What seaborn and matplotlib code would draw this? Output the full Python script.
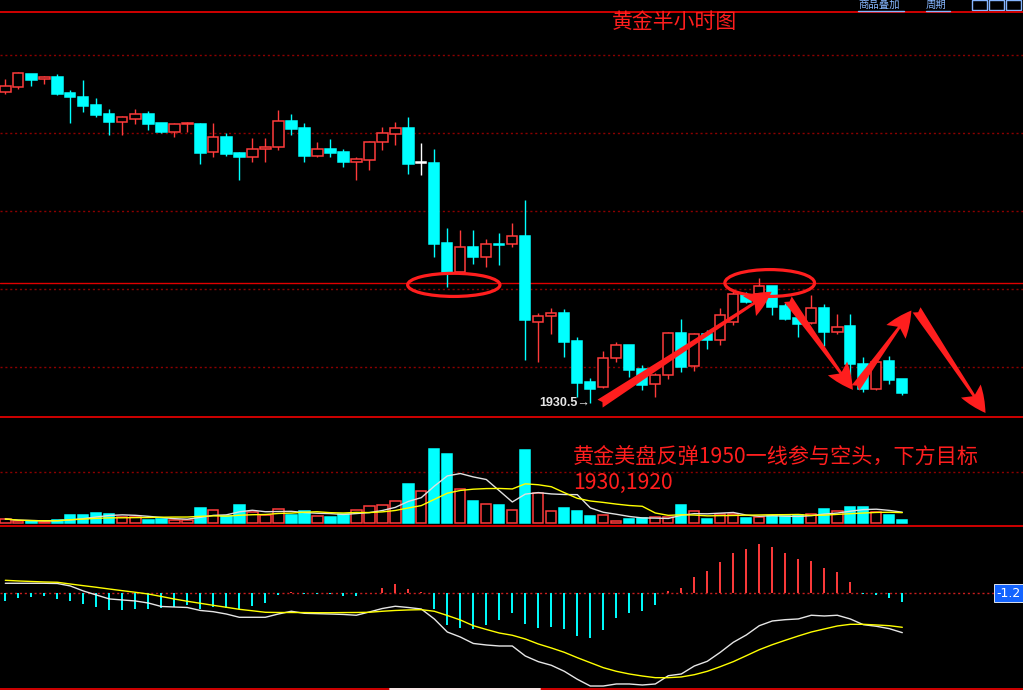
import numpy as np
import pandas as pd
import seaborn as sns
import matplotlib.pyplot as plt
from matplotlib.patches import Ellipse, FancyArrowPatch, Rectangle
from matplotlib.lines import Line2D

# ---------------- data (gold, 30 min bars) ----------------
opens = [1980.2, 1981.1, 1983.1, 1982.4, 1982.7, 1980.1, 1979.5, 1978.2, 1976.7, 1975.5,
         1976.0, 1976.7, 1975.3, 1973.9, 1975.1, 1975.1, 1970.7, 1973.1, 1970.5, 1969.9,
         1971.1, 1971.4, 1975.6, 1974.5, 1970.1, 1971.1, 1970.7, 1969.0, 1969.4, 1972.2,
         1973.6, 1974.5, 1968.9, 1968.9, 1956.1, 1951.5, 1955.5, 1953.9, 1955.9, 1955.9,
         1957.2, 1943.4, 1944.4, 1944.9, 1940.4, 1933.9, 1933.0, 1937.7, 1939.7, 1935.9,
         1933.5, 1934.9, 1941.7, 1936.4, 1941.5, 1940.6, 1943.5, 1947.8, 1947.9, 1949.2,
         1946.0, 1944.1, 1943.3, 1945.7, 1941.8, 1942.8, 1936.7, 1932.7, 1937.2, 1934.3]
highs = [1982.3, 1983.4, 1983.1, 1982.8, 1983.1, 1980.6, 1982.2, 1979.3, 1977.5, 1976.4,
         1977.5, 1977.2, 1975.3, 1975.3, 1975.4, 1975.3, 1975.3, 1973.7, 1970.7, 1972.9,
         1972.9, 1977.4, 1976.7, 1975.3, 1972.3, 1972.7, 1971.1, 1969.9, 1972.4, 1974.7,
         1975.5, 1976.3, 1972.1, 1971.1, 1958.5, 1958.2, 1958.2, 1956.7, 1957.7, 1959.3,
         1963.0, 1944.9, 1945.7, 1945.5, 1941.1, 1934.5, 1938.8, 1940.3, 1939.8, 1936.5,
         1935.3, 1941.9, 1943.9, 1941.7, 1942.2, 1945.7, 1948.6, 1948.3, 1950.5, 1949.2,
         1946.5, 1945.1, 1947.7, 1946.4, 1944.8, 1944.8, 1937.8, 1937.0, 1938.1, 1934.4]
lows = [1980.0, 1980.8, 1981.2, 1981.5, 1979.7, 1975.3, 1977.1, 1976.2, 1973.4, 1973.4,
        1975.2, 1974.2, 1973.7, 1973.1, 1973.9, 1968.8, 1969.8, 1970.1, 1966.2, 1969.1,
        1969.1, 1971.0, 1973.4, 1969.0, 1969.8, 1969.8, 1968.2, 1966.2, 1967.7, 1970.9,
        1971.7, 1967.2, 1966.9, 1953.8, 1949.1, 1951.3, 1952.8, 1952.3, 1952.5, 1955.5,
        1937.4, 1937.1, 1941.6, 1937.9, 1931.5, 1930.5, 1932.9, 1937.1, 1934.7, 1932.5,
        1931.5, 1934.3, 1935.5, 1935.6, 1939.1, 1939.8, 1943.0, 1946.5, 1947.8, 1944.6,
        1943.7, 1941.1, 1943.2, 1939.6, 1941.5, 1934.7, 1932.2, 1932.6, 1933.6, 1931.8]
closes = [1981.2, 1983.3, 1982.2, 1982.7, 1979.9, 1979.4, 1978.0, 1976.6, 1975.5, 1976.3,
          1976.7, 1975.2, 1973.9, 1975.1, 1975.3, 1970.5, 1973.1, 1970.4, 1969.9, 1971.1,
          1971.5, 1975.6, 1974.4, 1970.1, 1971.1, 1970.5, 1969.0, 1969.5, 1972.3, 1973.7,
          1974.5, 1968.8, 1968.9, 1956.0, 1951.5, 1955.4, 1953.9, 1955.9, 1955.8, 1957.2,
          1943.7, 1944.4, 1944.9, 1940.3, 1933.7, 1932.8, 1937.7, 1939.7, 1935.8, 1933.4,
          1934.9, 1941.7, 1936.3, 1941.5, 1940.6, 1944.5, 1947.9, 1946.7, 1949.2, 1945.9,
          1944.0, 1943.2, 1945.7, 1941.8, 1942.7, 1936.8, 1932.7, 1937.0, 1934.2, 1932.1]
volumes = [370, 140, 140, 100, 240, 770, 770, 970, 870, 540,
           540, 270, 400, 270, 270, 1470, 1240, 670, 1770, 1070,
           740, 1340, 770, 1170, 700, 570, 900, 1240, 1640, 1740,
           2140, 3870, 3140, 7370, 6870, 3340, 2170, 1840, 1770, 1240,
           7270, 2940, 1170, 1470, 1170, 670, 740, 170, 370, 440,
           570, 570, 1770, 1170, 370, 900, 900, 470, 570, 670,
           640, 770, 870, 1370, 1170, 1570, 1570, 1070, 770, 270]
macd_dif = [1.38, 1.38, 1.38, 1.38, 1.35, 1.01, 0.32, -0.23, -0.78, -0.92,
            -1.06, -1.34, -1.82, -1.89, -1.96, -2.37, -2.54, -2.86, -3.31, -3.31,
            -3.31, -2.86, -2.48, -2.76, -2.81, -2.86, -2.92, -3.03, -2.58, -2.10,
            -1.79, -1.96, -2.17, -3.54, -5.34, -6.03, -6.92, -7.13, -7.27, -7.27,
            -8.65, -9.43, -9.93, -10.76, -11.86, -12.79, -12.79, -12.51, -12.51, -12.65,
            -12.51, -11.37, -11.13, -10.03, -9.38, -8.14, -6.76, -5.75, -4.47, -3.82,
            -3.64, -3.54, -3.03, -3.13, -3.03, -3.54, -4.33, -4.55, -4.88, -5.43]
macd_dea = [1.79, 1.70, 1.63, 1.56, 1.52, 1.28, 1.05, 0.83, 0.59, 0.36,
            0.14, -0.10, -0.44, -0.79, -1.10, -1.38, -1.66, -1.93, -2.21, -2.41,
            -2.62, -2.65, -2.65, -2.66, -2.68, -2.68, -2.66, -2.65, -2.62, -2.48,
            -2.37, -2.30, -2.26, -2.48, -3.06, -3.68, -4.47, -4.99, -5.48, -5.79,
            -6.30, -6.99, -7.54, -8.14, -8.88, -9.57, -10.26, -10.76, -11.13, -11.41,
            -11.64, -11.64, -11.54, -11.23, -10.76, -10.12, -9.43, -8.61, -7.78, -7.09,
            -6.48, -5.89, -5.34, -4.92, -4.51, -4.28, -4.28, -4.37, -4.47, -4.69]
macd_hist = [-1.02, -0.61, -0.47, -0.33, -0.74, -1.02, -1.43, -1.85, -2.26, -2.26,
             -2.12, -2.12, -1.99, -1.93, -1.57, -2.12, -1.85, -1.99, -2.12, -1.71,
             -1.30, -0.19, 0.22, -0.14, -0.10, -0.10, -0.33, -0.33, 0.08, 0.73,
             1.28, 0.59, 0.22, -2.12, -4.33, -4.74, -4.88, -4.33, -3.64, -2.68,
             -4.19, -4.74, -4.61, -4.88, -5.85, -6.12, -5.02, -3.37, -2.68, -2.40,
             -1.57, 0.32, 0.73, 2.25, 3.08, 4.32, 5.56, 6.11, 6.80, 6.39,
             5.56, 4.73, 4.46, 3.50, 2.94, 1.56, -0.10, -0.23, -0.65, -1.20]

price_grid = [1986.2, 1973.7, 1961.2, 1948.7, 1936.2]
resistance = 1949.7
vol_grid = 5040

title = "黄金半小时图"
note_lines = ["黄金美盘反弹1950一线参与空头，下方目标", "1930,1920"]

# hand drawn marks on the chart: (bar index, price)
circles = [((34.5, 1949.4), 7.1, 3.7), ((58.8, 1949.7), 6.9, 4.3)]
arrows = [((45.75, 1930.4), (58.95, 1948.3)),
          ((60.2, 1947.1), (65.2, 1932.6)),
          ((65.4, 1932.9), (69.7, 1945.3)),
          ((70.1, 1945.4), (75.4, 1928.9))]

# ---------------- style ----------------
sns.set_theme(style="dark", rc={"axes.facecolor": "black", "figure.facecolor": "black"})
plt.rcParams['font.family'] = ['Noto Sans CJK SC', 'DejaVu Sans']

RED = '#ff3b3b'
LINE_RED = '#e00000'
GRID_RED = '#8c0000'
CYAN = '#00ffff'
DRAW_RED = '#ff1e1e'

df = pd.DataFrame({'open': opens, 'high': highs, 'low': lows, 'close': closes, 'vol': volumes})
df['idx'] = np.arange(len(df))
df['ma5'] = df['vol'].rolling(5, min_periods=1).mean()
df['ma10'] = df['vol'].rolling(10, min_periods=1).mean()

edge = np.where(df.close > df.open, RED, np.where(df.close < df.open, CYAN, 'white'))
face = np.where(df.close > df.open, 'black', np.where(df.close < df.open, CYAN, 'white'))
# volume bars: flat bars count as up bars
vol_edge = np.where(df.close >= df.open, RED, CYAN)
vol_face = np.where(df.close >= df.open, 'black', CYAN)

H = 690.0
W = 1023.0


def band(top, bottom):
    return [0, 1 - bottom / H, 1, (bottom - top) / H]


fig = plt.figure(figsize=(10.23, 6.90), dpi=100)
ax = fig.add_axes(band(12, 417))
ax_vol = fig.add_axes(band(417, 526))
ax_macd = fig.add_axes(band(526, 690))

xlim = (-5.3 / 13, (W - 5.3) / 13)
for a in (ax, ax_vol, ax_macd):
    a.set_facecolor('black')
    a.set_xlim(*xlim)
    a.set_xticks([])
    a.set_yticks([])
    a.grid(False)
    for s in a.spines.values():
        s.set_visible(False)

# ---- price panel ----
ax.set_ylim(1928.26, 1993.06)
for lv in price_grid:
    ax.axhline(lv, color=GRID_RED, lw=1, ls=(0, (1.5, 2)), zorder=0)
ax.axhline(resistance, color=LINE_RED, lw=1, zorder=0)

ax.vlines(df.idx, df.low, df.high, colors=edge, lw=1, zorder=1)
body_lo = np.minimum(df.open, df.close)
body_h = np.maximum((df.close - df.open).abs(), 0.1)
ax.bar(df.idx, body_h, bottom=body_lo, width=0.8, color=face, edgecolor=edge, lw=1.1, zorder=2)

for (c, w, h) in circles:
    ax.add_patch(Ellipse(c, w, h, fill=False, edgecolor=DRAW_RED, lw=2.3, zorder=4))
for p0, p1 in arrows:
    ax.add_patch(FancyArrowPatch(p0, p1, arrowstyle="fancy,head_width=0.85,head_length=0.95,tail_width=0.34",
                                 mutation_scale=20, color=DRAW_RED, lw=0, shrinkA=0, shrinkB=0, zorder=5))

imin = int(df.low.idxmin())
ax.text(imin - 0.05, df.low[imin], f"{df.low[imin]:.1f}→", ha='right', va='center', color='#e6e6e6',
        fontsize=9, fontweight='bold', family=['Liberation Sans', 'DejaVu Sans'], zorder=6)

# ---- volume panel ----
ax_vol.set_ylim(-330, 10570)
ax_vol.axhline(vol_grid, color=GRID_RED, lw=1, ls=(0, (1.5, 2)), zorder=0)
ax_vol.bar(df.idx, df.vol, width=0.8, color=vol_face, edgecolor=vol_edge, lw=1.1, zorder=2)
sns.lineplot(x=df.idx, y=df.ma5, ax=ax_vol, color='#e0e0e0', lw=1, zorder=3)
sns.lineplot(x=df.idx, y=df.ma10, ax=ax_vol, color='#ffff00', lw=1, zorder=3)
ax_vol.set_xlabel('')
ax_vol.set_ylabel('')

# ---- MACD panel ----
ax_macd.set_ylim(-13.34, 9.28)
ax_macd.axhline(0, color='#c81e1e', lw=1, ls=(0, (1.5, 2)), zorder=0)
hist = np.array(macd_hist)
ax_macd.vlines(df.idx, 0, hist, colors=np.where(hist >= 0, RED, CYAN), lw=1.4, zorder=2)
sns.lineplot(x=df.idx, y=macd_dif, ax=ax_macd, color='#e6e6e6', lw=1, zorder=3)
sns.lineplot(x=df.idx, y=macd_dea, ax=ax_macd, color='#ffff00', lw=1, zorder=3)
ax_macd.set_xlabel('')
ax_macd.set_ylabel('')
ax_macd.text(0.998, 0, f"{hist[-1]:.1f}", transform=ax_macd.get_yaxis_transform(), ha='right', va='center',
             color='white', fontsize=9, family=['DejaVu Sans'],
             bbox=dict(boxstyle='square,pad=0.2', fc='#1464ff', ec='white', lw=0.6), zorder=6)

# ---- frame lines, titles, notes ----
for y in (12, 417, 526):
    fig.add_artist(Line2D([0, 1], [1 - y / H, 1 - y / H], transform=fig.transFigure, color=LINE_RED, lw=1.3))
fig.add_artist(Line2D([0, 1], [1 - 689 / H] * 2, transform=fig.transFigure, color=LINE_RED, lw=1.3))
fig.add_artist(Line2D([390 / W, 540 / W], [1 - 689 / H] * 2, transform=fig.transFigure, color='white', lw=1.3))

fig.text(674 / W, 1 - 22 / H, title, ha='center', va='center', color=DRAW_RED, fontsize=15)
fig.text(573 / W, 1 - 457 / H, note_lines[0], ha='left', va='center', color=DRAW_RED, fontsize=15.2)
fig.text(573 / W, 1 - 483 / H, note_lines[1], ha='left', va='center', color=DRAW_RED, fontsize=15.2)

# toolbar at the top right
BLUE = '#86b6ff'
fig.text(858 / W, 1 - 5 / H, "商品叠加", ha='left', va='center', color=BLUE, fontsize=7.5)
fig.text(926 / W, 1 - 5 / H, "周期", ha='left', va='center', color=BLUE, fontsize=7.5)
for x0, x1 in ((858, 904), (926, 950)):
    fig.add_artist(Line2D([x0 / W, x1 / W], [1 - 10.5 / H] * 2, transform=fig.transFigure, color=BLUE, lw=1))
for x0 in (972, 989, 1006):
    fig.add_artist(Rectangle((x0 / W, 1 - 10 / H), 15 / W, 10 / H, transform=fig.transFigure,
                             fill=False, edgecolor=BLUE, lw=1))

fig.savefig('out.png', dpi=100, facecolor='black')
